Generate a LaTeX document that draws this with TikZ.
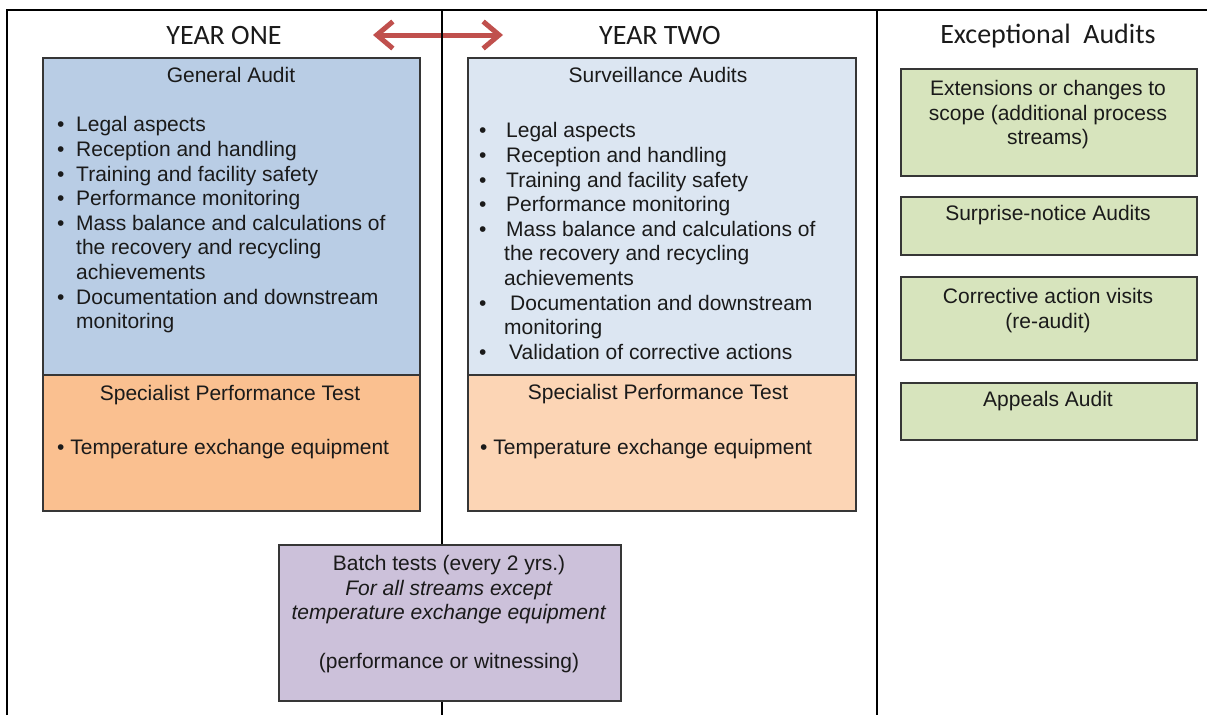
\documentclass[tikz,border=0pt]{standalone}
\usepackage{fontspec}
\setmainfont{Liberation Sans}
\newfontfamily\headfont{Carlito}
\usetikzlibrary{positioning,arrows.meta}

\definecolor{ink}{HTML}{1A1A1A}
\definecolor{boxline}{HTML}{363636}
\definecolor{arrowred}{HTML}{C0504D}
\definecolor{auditblue}{HTML}{B9CDE5}
\definecolor{survblue}{HTML}{DCE6F2}
\definecolor{testorange}{HTML}{FAC090}
\definecolor{testpeach}{HTML}{FCD5B5}
\definecolor{exgreen}{HTML}{D7E4BD}
\definecolor{batchlilac}{HTML}{CCC1DA}

\tikzset{
  panel/.style={draw=boxline, line width=1.5pt, anchor=north west, inner sep=0pt},
  coltitle/.style={font=\headfont\fontsize{28}{30}\selectfont, text=ink, inner sep=0pt},
  boxtext/.style={font=\fontsize{21}{24.6}\selectfont, text=ink, inner sep=0pt},
  frame/.style={line width=1.3pt, black},
}
\newcommand{\bl}[1]{\makebox[#1][l]{\textbullet}}

\begin{document}
\begin{tikzpicture}[x=1pt,y=1pt]
  \useasboundingbox (0,0) rectangle (1207,-715);
  % column titles
  \node[coltitle] (yone) at (224,-36) {YEAR ONE};
  \node[coltitle] (ytwo) at (660,-36) {YEAR TWO};
  \node[coltitle] (exc) at (1048,-36) {Exceptional\ \ Audits};
  % the double arrow between the years
  \coordinate (al) at (373,-35);
  \coordinate (ar) at (503,-35);
  \draw[arrowred, line width=5pt, {Straight Barb[length=16pt,width=27pt]}-{Straight Barb[length=16pt,width=27pt]}] (al) -- (ar);
  % frame and column lines
  \draw[frame] (7,-715) -- (7,-10) -- (1207,-10);
  \draw[frame] (442,-10) -- (442,-715);
  \draw[frame] (877,-10) -- (877,-715);

  % year one
  \node[panel, fill=auditblue, minimum width=377, minimum height=317] (ga) at (42,-57) {};
  \node[boxtext] (gat) at (231,-75) {General Audit};
  \node[boxtext, align=left, anchor=north west] (gal) at (57,-116.4) {%
    \bl{19pt}Legal aspects\\
    \bl{19pt}Reception and handling\\
    \bl{19pt}Training and facility safety\\
    \bl{19pt}Performance monitoring\\
    \bl{19pt}Mass balance and calculations of\\
    \hspace*{19pt}the recovery and recycling\\
    \hspace*{19pt}achievements\\
    \bl{19pt}Documentation and downstream\\
    \hspace*{19pt}monitoring};
  \node[panel, fill=testorange, minimum width=377, minimum height=136] (spa) at (42,-374) {};
  \node[boxtext] (spat) at (230,-395) {Specialist Performance Test};
  \node[boxtext, anchor=west] (spal) at (57,-449) {\textbullet\ Temperature exchange equipment};

  % year two
  \node[panel, fill=survblue, minimum width=388, minimum height=317] (sa) at (467,-57) {};
  \node[boxtext] (sat) at (658,-75) {Surveillance Audits};
  \node[boxtext, align=left, anchor=north west] (sal) at (479,-122.4) {%
    \bl{27pt}Legal aspects\\
    \bl{27pt}Reception and handling\\
    \bl{27pt}Training and facility safety\\
    \bl{27pt}Performance monitoring\\
    \bl{27pt}Mass balance and calculations of\\
    \hspace*{25pt}the recovery and recycling\\
    \hspace*{25pt}achievements\\
    \bl{31pt}Documentation and downstream\\
    \hspace*{25pt}monitoring\\
    \bl{30pt}Validation of corrective actions};
  \node[panel, fill=testpeach, minimum width=388, minimum height=136] (spb) at (467,-374) {};
  \node[boxtext] (spbt) at (658,-394) {Specialist Performance Test};
  \node[boxtext, anchor=west] (spbl) at (480,-449) {\textbullet\ Temperature exchange equipment};

  % exceptional audits
  \foreach \i/\ya/\hh/\ty/\txt in {
      1/68/107/80.3/{Extensions or changes to\\scope (additional process\\streams)},
      2/196/58/205.3/{Surprise-notice Audits},
      3/276/83/288.3/{Corrective action visits\\(re-audit)},
      4/382/57/391.3/{Appeals Audit}} {
    \node[panel, fill=exgreen, minimum width=296, minimum height=\hh] (ex\i) at (900,-\ya) {};
    \node[boxtext, align=center, anchor=north] (ex\i t) at (1048,-\ty) {\txt};
  }

  % batch tests
  \node[panel, fill=batchlilac, minimum width=342, minimum height=156] (bt) at (278,-544) {};
  \node[boxtext, align=center, anchor=north] (btt) at (449,-555) {%
    Batch tests (every 2 yrs.)\\
    \textit{For all streams except}\\
    \textit{temperature exchange equipment}\\[24.6pt]
    (performance or witnessing)};
\end{tikzpicture}
\end{document}
